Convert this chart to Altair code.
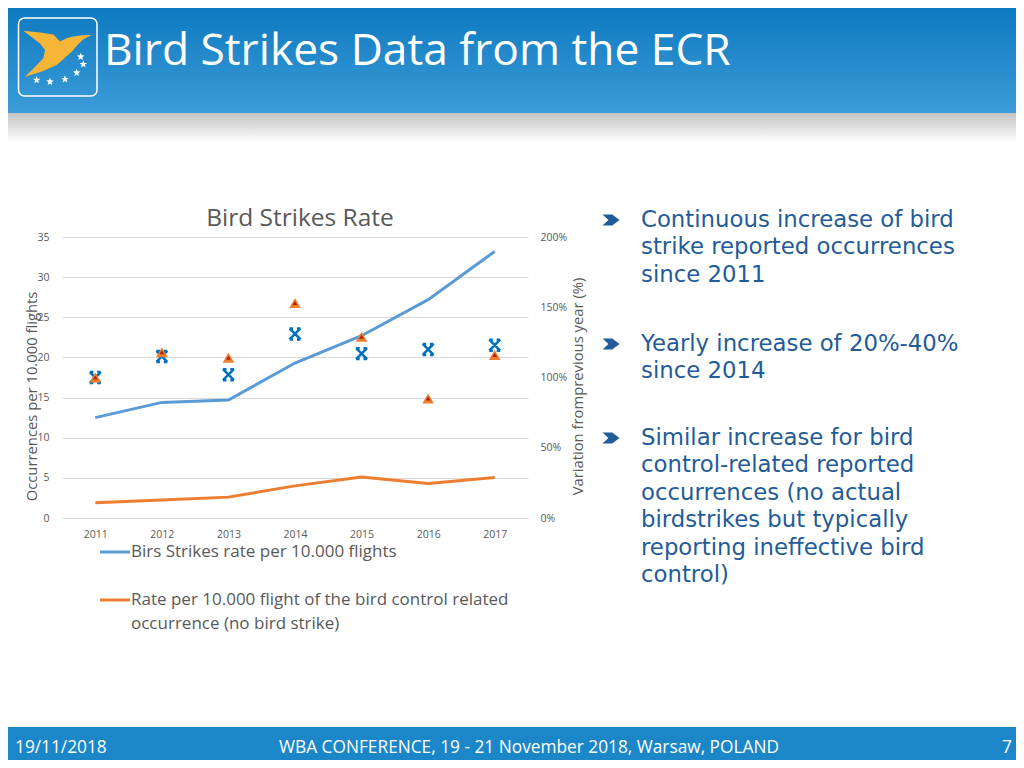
import math
import altair as alt
import pandas as pd

# ---------------- data ----------------
years = ["2011", "2012", "2013", "2014", "2015", "2016", "2017"]
bird_strike_rate = [12.5, 14.4, 14.7, 19.3, 22.7, 27.2, 33.2]
bird_control_rate = [1.9, 2.25, 2.6, 4.0, 5.1, 4.3, 5.05]
strike_variation = [1.00, 1.15, 1.02, 1.31, 1.17, 1.20, 1.23]
control_variation = [1.00, 1.18, 1.14, 1.53, 1.29, 0.85, 1.16]

series_names = ["Birs Strikes rate per 10.000 flights",
                "Rate per 10.000 flight of the bird control related occurrence (no bird strike)"]
series_colors = ["#5B9BD5", "#ED7D31"]
left_ticks = [0, 5, 10, 15, 20, 25, 30, 35]
right_ticks = [0, 0.5, 1.0, 1.5, 2.0]

slide_title = "Bird Strikes Data from the ECR"
chart_title = "Bird Strikes Rate"
y_left_title = "Occurrences per 10.000 flights"
y_right_title = "Variation fromprevious year (%)"
legend_lines = [["Birs Strikes rate per 10.000 flights"],
                ["Rate per 10.000 flight of the bird control related",
                 "occurrence (no bird strike)"]]
bullets = [
    ["Continuous increase of bird", "strike reported occurrences", "since 2011"],
    ["Yearly increase of 20%-40%", "since 2014"],
    ["Similar increase for bird", "control-related reported", "occurrences (no actual",
     "birdstrikes but typically", "reporting ineffective bird", "control)"],
]
footer_left = "19/11/2018"
footer_center = "WBA CONFERENCE, 19 - 21 November 2018, Warsaw, POLAND"
footer_right = "7"

# ---------------- style ----------------
FONT = "Open Sans"
BULLET_FONT = "DejaVu Sans"
GREY = "#595959"
TXT_BLUE = "#1F5C99"
PLOT_L, PLOT_T = 62, 237  # page position of plot origin
W, H = 466, 281


def px(p):
    return p - PLOT_L


def py(p):
    return p - PLOT_T


ONE = pd.DataFrame({"k": [0]})


def text_layer(s, x, y, size, color, align="left", font=FONT):
    return alt.Chart(ONE).mark_text(
        align=align, baseline="middle", font=font, fontSize=size, color=color
    ).encode(x=alt.value(px(x)), y=alt.value(py(y)), text=alt.value(s))


def block_layer(lines_list, x, y_first_mid, size, lh, color, font=FONT):
    # multi-line text; y given as the middle of the first line
    top = y_first_mid + round(0.30 * size) - round(0.79 * size)
    return alt.Chart(ONE).mark_text(
        align="left", baseline="top", font=font, fontSize=size, color=color, lineHeight=lh
    ).encode(x=alt.value(px(x)), y=alt.value(py(top)), text=alt.value(lines_list))


def rect_layer(x1, x2, y1, y2, **kw):
    return alt.Chart(ONE).mark_rect(**kw).encode(
        x=alt.value(px(x1)), x2=alt.value(px(x2)), y=alt.value(py(y1)), y2=alt.value(py(y2)))


def symbol_layer(shape, x, y, size, **kw):
    return alt.Chart(ONE).mark_point(shape=shape, size=size, **kw).encode(
        x=alt.value(px(x)), y=alt.value(py(y)))


def rule_layer(x1, x2, y, color, w):
    return alt.Chart(ONE).mark_rule(color=color, strokeWidth=w).encode(
        x=alt.value(px(x1)), x2=alt.value(px(x2)), y=alt.value(py(y)))


def path_from(points, cx, cy, half):
    parts = []
    for i, (a, b) in enumerate(points):
        parts.append(("M" if i == 0 else "L") + f"{(a - cx) / half:.3f},{(b - cy) / half:.3f}")
    return "".join(parts) + "Z"


# ---------------- main chart ----------------
line_df = pd.DataFrame({
    "year": years * 2,
    "value": bird_strike_rate + bird_control_rate,
    "series": [series_names[0]] * len(years) + [series_names[1]] * len(years),
})
strike_df = pd.DataFrame({"year": years, "variation": strike_variation})
control_df = pd.DataFrame({"year": years, "variation": control_variation})

x_enc = alt.X("year:O", scale=alt.Scale(type="point", padding=0.5),
              axis=alt.Axis(title=None, labelAngle=0, labelFont=FONT, labelFontSize=10.5,
                            labelColor=GREY, labelPadding=11, domain=False, ticks=False, grid=False))

lines = alt.Chart(line_df).mark_line(strokeWidth=3).encode(
    x=x_enc,
    y=alt.Y("value:Q", scale=alt.Scale(domain=[0, 35], nice=False),
            axis=alt.Axis(values=left_ticks, title=y_left_title, titleFont=FONT, titleFontSize=14.8,
                          titleFontWeight="normal", titleColor=GREY, titleAngle=270,
                          titleX=-30, titleY=159, titleAlign="center", titleBaseline="middle",
                          labelFont=FONT, labelFontSize=10.5, labelColor=GREY, labelPadding=13,
                          domain=False, ticks=False, grid=True, gridColor="#D9D9D9", gridWidth=1)),
    color=alt.Color("series:N", scale=alt.Scale(domain=series_names, range=series_colors), legend=None),
)

right_axis = alt.Axis(orient="right", values=right_ticks, format=".0%", title=y_right_title,
                      titleFont=FONT, titleFontSize=14.8, titleFontWeight="normal", titleColor=GREY,
                      titleAngle=270, titleX=50, titleY=149, titleAlign="center",
                      titleBaseline="middle", labelFont=FONT, labelFontSize=10.5, labelColor=GREY,
                      labelPadding=12, domain=False, ticks=False, grid=False)
right_scale = alt.Scale(domain=[0, 2], nice=False)

X_PATH = "M-1,-1L1,1M1,-1L-1,1M-1,-1L-0.35,-1M0.35,-1L1,-1M-1,1L-0.35,1M0.35,1L1,1"
strike_pts = alt.Chart(strike_df).mark_point(
    shape=X_PATH, filled=False, color="#0070C0", strokeWidth=2.5, size=120, opacity=1
).encode(x=x_enc, y=alt.Y("variation:Q", scale=right_scale, axis=right_axis))

control_tri = alt.Chart(control_df).mark_point(
    shape="triangle-up", filled=True, color="#ED7D31", size=135, opacity=1
).encode(x=x_enc, y=alt.Y("variation:Q", scale=right_scale, axis=None))

control_tri_in = alt.Chart(control_df).mark_point(
    shape="triangle-up", filled=True, color="#B41E0A", size=22, opacity=1
).encode(x=x_enc, y=alt.Y("variation:Q", scale=right_scale, axis=None))

# ---------------- slide decorations ----------------
back = []
front = []
header_grad = alt.Gradient(gradient="linear", x1=0, y1=0, x2=0, y2=1,
                           stops=[alt.GradientStop(color="#0A77BE", offset=0),
                                  alt.GradientStop(color="#3C9CD8", offset=1)])
shadow_grad = alt.Gradient(gradient="linear", x1=0, y1=0, x2=0, y2=1,
                           stops=[alt.GradientStop(color="#C4C4C4", offset=0),
                                  alt.GradientStop(color="#FFFFFF", offset=1)])
back.append(rect_layer(0, 1024, 0, 113, fill=header_grad))
back.append(rect_layer(0, 1024, 113, 142, fill=shadow_grad))
front.append(rect_layer(18.5, 97, 18, 96, filled=False, color="white", strokeWidth=1.5,
                        cornerRadius=6))
bird_pts = [(23.3, 30.7), (40, 32.5), (53.3, 34.5), (60, 41.5), (66, 38.5), (71.7, 36.8),
            (82, 35.2), (91.7, 35), (83, 39.5), (77, 45.5), (71.7, 51.7), (64, 58.5),
            (56.7, 65), (42, 71.5), (25, 76.7), (36, 66), (43.3, 58.3), (45, 50),
            (40, 43.5), (33.3, 38.3)]
BIRD = path_from(bird_pts, 57.5, 53.7, 34.2)
front.append(symbol_layer(BIRD, 57.5, 53.7, 4679, filled=True, color="#F7B538", opacity=1))
star_pts = []
for k in range(10):
    r = 1.0 if k % 2 == 0 else 0.42
    a = -math.pi / 2 + k * math.pi / 5
    star_pts.append((r * math.cos(a), r * math.sin(a)))
STAR = path_from(star_pts, 0, 0, 1)
for (sx, sy) in [(36.7, 80), (50, 81.7), (65, 79.3), (76.7, 72.7), (83.3, 64.3), (80.7, 56.7)]:
    front.append(symbol_layer(STAR, sx, sy, 64, filled=True, color="white", opacity=1))
front.append(text_layer(slide_title, 104, 52, 44.3, "white"))

# chart title
front.append(text_layer(chart_title, 300, 219, 24.5, GREY, align="center"))

# legend
leg_y = [552, 600]
for i, (lines_txt, y0) in enumerate(zip(legend_lines, leg_y)):
    front.append(rule_layer(100, 130, y0, series_colors[i], 3))
    front.append(block_layer(lines_txt, 131, y0, 17, 24, GREY))

# bullets
CHEV = "M-1,-0.65L0.15,-0.65L1,0L0.15,0.65L-1,0.65L-0.3,0Z"
bullet_y = [220, 344, 438]
LH = 27.4
for b, y0 in zip(bullets, bullet_y):
    front.append(symbol_layer(CHEV, 611, y0, 289, filled=True, color=TXT_BLUE, opacity=1))
    front.append(block_layer(b, 641, y0, 22.8, LH, TXT_BLUE, font=BULLET_FONT))

# footer
front.append(rect_layer(0, 1024, 727, 768, color="#1B87C8"))
front.append(text_layer(footer_left, 15, 748, 17.3, "white"))
front.append(text_layer(footer_center, 529, 748, 17.3, "white", align="center"))
front.append(text_layer(footer_right, 1012, 748, 17.3, "white", align="right"))

chart = alt.layer(
    *back, lines, strike_pts, control_tri, control_tri_in, *front
).resolve_scale(y="independent").properties(
    width=W, height=H,
    padding={"left": PLOT_L - 8, "top": PLOT_T - 8, "right": 1008 - (PLOT_L - 8) - W,
             "bottom": 752 - (PLOT_T - 8) - H},
    autosize=alt.AutoSizeParams(type="none"),
    background="white",
).configure_view(strokeWidth=0)

chart.save("out.html", embed_options={"renderer": "svg", "actions": False})
